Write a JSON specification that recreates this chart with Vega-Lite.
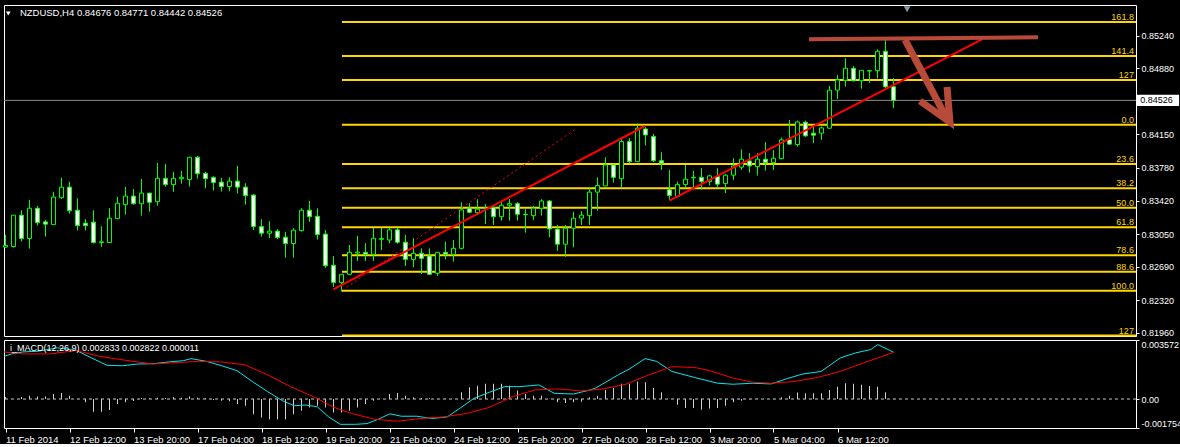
{
"$schema":"https://vega.github.io/schema/vega-lite/v6.json",
"background":"#000000",
"padding":{"left":1,"top":4,"right":0,"bottom":0},
"spacing":0,
"config":{
  "view":{"stroke":"#ffffff","strokeWidth":1},
  "axis":{"labelColor":"#ffffff","tickColor":"#ffffff","domain":false,"grid":false,"labelFont":"Liberation Sans","labelFontSize":9,"tickSize":3,"labelPadding":2},
  "text":{"font":"Liberation Sans","fontSize":9}
},
"datasets":{
"candles":[
{"i":0,"o":0.82906,"h":0.83041,"l":0.82901,"c":0.82923},
{"i":1,"o":0.82912,"h":0.83258,"l":0.82901,"c":0.83258},
{"i":2,"o":0.83258,"h":0.83313,"l":0.82967,"c":0.83000},
{"i":3,"o":0.83000,"h":0.83426,"l":0.82890,"c":0.83335},
{"i":4,"o":0.83335,"h":0.83360,"l":0.83143,"c":0.83176},
{"i":5,"o":0.83184,"h":0.83206,"l":0.83022,"c":0.83159},
{"i":6,"o":0.83154,"h":0.83516,"l":0.83154,"c":0.83458},
{"i":7,"o":0.83451,"h":0.83670,"l":0.83437,"c":0.83568},
{"i":8,"o":0.83568,"h":0.83626,"l":0.83275,"c":0.83308},
{"i":9,"o":0.83313,"h":0.83445,"l":0.83088,"c":0.83143},
{"i":10,"o":0.83170,"h":0.83214,"l":0.83088,"c":0.83143},
{"i":11,"o":0.83181,"h":0.83313,"l":0.82945,"c":0.82956},
{"i":12,"o":0.82956,"h":0.83136,"l":0.82909,"c":0.82964},
{"i":13,"o":0.82956,"h":0.83335,"l":0.82950,"c":0.83225},
{"i":14,"o":0.83220,"h":0.83461,"l":0.83215,"c":0.83390},
{"i":15,"o":0.83374,"h":0.83571,"l":0.83264,"c":0.83469},
{"i":16,"o":0.83469,"h":0.83546,"l":0.83374,"c":0.83385},
{"i":17,"o":0.83385,"h":0.83659,"l":0.83253,"c":0.83502},
{"i":18,"o":0.83502,"h":0.83505,"l":0.83297,"c":0.83401},
{"i":19,"o":0.83407,"h":0.83835,"l":0.83363,"c":0.83665},
{"i":20,"o":0.83665,"h":0.83824,"l":0.83574,"c":0.83596},
{"i":21,"o":0.83596,"h":0.83736,"l":0.83516,"c":0.83665},
{"i":22,"o":0.83661,"h":0.83747,"l":0.83607,"c":0.83676},
{"i":23,"o":0.83651,"h":0.83901,"l":0.83574,"c":0.83898},
{"i":24,"o":0.83898,"h":0.83912,"l":0.83661,"c":0.83716},
{"i":25,"o":0.83720,"h":0.83736,"l":0.83555,"c":0.83661},
{"i":26,"o":0.83676,"h":0.83687,"l":0.83530,"c":0.83618},
{"i":27,"o":0.83623,"h":0.83670,"l":0.83519,"c":0.83574},
{"i":28,"o":0.83574,"h":0.83676,"l":0.83523,"c":0.83634},
{"i":29,"o":0.83634,"h":0.83802,"l":0.83497,"c":0.83568},
{"i":30,"o":0.83568,"h":0.83611,"l":0.83374,"c":0.83475},
{"i":31,"o":0.83480,"h":0.83491,"l":0.83093,"c":0.83132},
{"i":32,"o":0.83132,"h":0.83214,"l":0.83022,"c":0.83059},
{"i":33,"o":0.83059,"h":0.83191,"l":0.83004,"c":0.83082},
{"i":34,"o":0.83082,"h":0.83104,"l":0.82993,"c":0.83011},
{"i":35,"o":0.83015,"h":0.83074,"l":0.82788,"c":0.82945},
{"i":36,"o":0.82945,"h":0.83114,"l":0.82788,"c":0.83093},
{"i":37,"o":0.83088,"h":0.83335,"l":0.83077,"c":0.83313},
{"i":38,"o":0.83313,"h":0.83415,"l":0.83184,"c":0.83242},
{"i":39,"o":0.83246,"h":0.83335,"l":0.82989,"c":0.83044},
{"i":40,"o":0.83049,"h":0.83093,"l":0.82678,"c":0.82700},
{"i":41,"o":0.82705,"h":0.82807,"l":0.82466,"c":0.82514},
{"i":42,"o":0.82514,"h":0.82605,"l":0.82415,"c":0.82605},
{"i":43,"o":0.82605,"h":0.82929,"l":0.82597,"c":0.82848},
{"i":44,"o":0.82840,"h":0.83030,"l":0.82752,"c":0.82851},
{"i":45,"o":0.82848,"h":0.82949,"l":0.82752,"c":0.82826},
{"i":46,"o":0.82826,"h":0.83118,"l":0.82752,"c":0.83004},
{"i":47,"o":0.82991,"h":0.83118,"l":0.82873,"c":0.83000},
{"i":48,"o":0.82984,"h":0.83118,"l":0.82949,"c":0.83096},
{"i":49,"o":0.83096,"h":0.83118,"l":0.82942,"c":0.82960},
{"i":50,"o":0.82960,"h":0.83041,"l":0.82697,"c":0.82770},
{"i":51,"o":0.82770,"h":0.83004,"l":0.82683,"c":0.82837},
{"i":52,"o":0.82837,"h":0.82892,"l":0.82609,"c":0.82782},
{"i":53,"o":0.82807,"h":0.82892,"l":0.82598,"c":0.82605},
{"i":54,"o":0.82617,"h":0.82848,"l":0.82587,"c":0.82848},
{"i":55,"o":0.82848,"h":0.82964,"l":0.82770,"c":0.82826},
{"i":56,"o":0.82826,"h":0.82984,"l":0.82745,"c":0.82892},
{"i":57,"o":0.82892,"h":0.83401,"l":0.82881,"c":0.83316},
{"i":58,"o":0.83335,"h":0.83390,"l":0.83279,"c":0.83290},
{"i":59,"o":0.83286,"h":0.83434,"l":0.83261,"c":0.83324},
{"i":60,"o":0.83330,"h":0.83382,"l":0.83162,"c":0.83335},
{"i":61,"o":0.83341,"h":0.83371,"l":0.83151,"c":0.83242},
{"i":62,"o":0.83242,"h":0.83407,"l":0.83198,"c":0.83368},
{"i":63,"o":0.83368,"h":0.83437,"l":0.83198,"c":0.83385},
{"i":64,"o":0.83385,"h":0.83404,"l":0.83198,"c":0.83268},
{"i":65,"o":0.83268,"h":0.83324,"l":0.83066,"c":0.83264},
{"i":66,"o":0.83253,"h":0.83360,"l":0.83206,"c":0.83335},
{"i":67,"o":0.83335,"h":0.83434,"l":0.83253,"c":0.83415},
{"i":68,"o":0.83415,"h":0.83426,"l":0.83015,"c":0.83107},
{"i":69,"o":0.83103,"h":0.83151,"l":0.82865,"c":0.82938},
{"i":70,"o":0.82938,"h":0.83151,"l":0.82799,"c":0.83114},
{"i":71,"o":0.83114,"h":0.83297,"l":0.82903,"c":0.83225},
{"i":72,"o":0.83225,"h":0.83302,"l":0.83151,"c":0.83258},
{"i":73,"o":0.83253,"h":0.83557,"l":0.83151,"c":0.83513},
{"i":74,"o":0.83513,"h":0.83676,"l":0.83308,"c":0.83585},
{"i":75,"o":0.83581,"h":0.83898,"l":0.83578,"c":0.83813},
{"i":76,"o":0.83813,"h":0.83816,"l":0.83618,"c":0.83676},
{"i":77,"o":0.83661,"h":0.84120,"l":0.83568,"c":0.84071},
{"i":78,"o":0.84071,"h":0.84109,"l":0.83832,"c":0.83849},
{"i":79,"o":0.83849,"h":0.84250,"l":0.83845,"c":0.84219},
{"i":80,"o":0.84210,"h":0.84230,"l":0.84028,"c":0.84144},
{"i":81,"o":0.84127,"h":0.84156,"l":0.83845,"c":0.83860},
{"i":82,"o":0.83860,"h":0.83953,"l":0.83758,"c":0.83832},
{"i":83,"o":0.83538,"h":0.83758,"l":0.83426,"c":0.83475},
{"i":84,"o":0.83464,"h":0.83629,"l":0.83453,"c":0.83596},
{"i":85,"o":0.83596,"h":0.83813,"l":0.83568,"c":0.83655},
{"i":86,"o":0.83670,"h":0.83747,"l":0.83557,"c":0.83676},
{"i":87,"o":0.83676,"h":0.83777,"l":0.83538,"c":0.83629},
{"i":88,"o":0.83629,"h":0.83703,"l":0.83585,"c":0.83692},
{"i":89,"o":0.83685,"h":0.83777,"l":0.83557,"c":0.83601},
{"i":90,"o":0.83607,"h":0.83714,"l":0.83501,"c":0.83700},
{"i":91,"o":0.83700,"h":0.83887,"l":0.83648,"c":0.83802},
{"i":92,"o":0.83788,"h":0.83985,"l":0.83758,"c":0.83876},
{"i":93,"o":0.83857,"h":0.83942,"l":0.83728,"c":0.83802},
{"i":94,"o":0.83794,"h":0.83942,"l":0.83695,"c":0.83876},
{"i":95,"o":0.83876,"h":0.84065,"l":0.83751,"c":0.83838},
{"i":96,"o":0.83838,"h":0.83978,"l":0.83758,"c":0.83887},
{"i":97,"o":0.83882,"h":0.84116,"l":0.83875,"c":0.84090},
{"i":98,"o":0.84090,"h":0.84310,"l":0.84035,"c":0.84043},
{"i":99,"o":0.84038,"h":0.84302,"l":0.84016,"c":0.84288},
{"i":100,"o":0.84285,"h":0.84302,"l":0.84123,"c":0.84134},
{"i":101,"o":0.84163,"h":0.84236,"l":0.84054,"c":0.84141},
{"i":102,"o":0.84163,"h":0.84236,"l":0.84090,"c":0.84222},
{"i":103,"o":0.84219,"h":0.84686,"l":0.84211,"c":0.84639},
{"i":104,"o":0.84639,"h":0.84807,"l":0.84541,"c":0.84752},
{"i":105,"o":0.84748,"h":0.84991,"l":0.84679,"c":0.84880},
{"i":106,"o":0.84880,"h":0.84906,"l":0.84735,"c":0.84743},
{"i":107,"o":0.84743,"h":0.84858,"l":0.84655,"c":0.84858},
{"i":108,"o":0.84850,"h":0.84856,"l":0.84720,"c":0.84854},
{"i":109,"o":0.84854,"h":0.85090,"l":0.84770,"c":0.85068},
{"i":110,"o":0.85068,"h":0.85192,"l":0.84660,"c":0.84676},
{"i":111,"o":0.84676,"h":0.84771,"l":0.84442,"c":0.84526}
],
"fib":[
{"lvl":"161.8","p":0.853901},{"lvl":"141.4","p":0.850161},{"lvl":"127","p":0.847521},{"lvl":"0.0","p":0.842571},
{"lvl":"23.6","p":0.838244},{"lvl":"38.2","p":0.835568},{"lvl":"50.0","p":0.833405},{"lvl":"61.8","p":0.831241},
{"lvl":"78.6","p":0.828161},{"lvl":"88.6","p":0.826328},{"lvl":"100.0","p":0.824238},{"lvl":"127","p":0.819288}
],
"hist":[
{"i":0,"v":0.00012},{"i":1,"v":0},{"i":2,"v":0.00012},{"i":3,"v":0.0002},{"i":4,"v":0.00016},{"i":5,"v":0.00016},{"i":6,"v":0.0003},{"i":7,"v":0.00037},{"i":8,"v":0.0002},{"i":9,"v":0.00002},
{"i":10,"v":-0.0002},{"i":11,"v":-0.00077},{"i":12,"v":-0.00077},{"i":13,"v":-0.00067},{"i":14,"v":-0.0003},{"i":15,"v":-0.0002},{"i":16,"v":-0.00012},{"i":17,"v":0.00006},{"i":18,"v":0.00004},{"i":19,"v":0.00008},
{"i":20,"v":0.00006},{"i":21,"v":0.00012},{"i":22,"v":0.00008},{"i":23,"v":0.00016},{"i":24,"v":0.00008},{"i":25,"v":0.00004},{"i":26,"v":-0.00006},{"i":27,"v":-0.0001},{"i":28,"v":-0.00014},{"i":29,"v":-0.0003},
{"i":30,"v":-0.0004},{"i":31,"v":-0.00092},{"i":32,"v":-0.00112},{"i":33,"v":-0.00122},{"i":34,"v":-0.00122},{"i":35,"v":-0.00122},{"i":36,"v":-0.00092},{"i":37,"v":-0.00071},{"i":38,"v":-0.00051},{"i":39,"v":-0.00041},
{"i":40,"v":-0.00051},{"i":41,"v":-0.00081},{"i":42,"v":-0.00081},{"i":43,"v":-0.00071},{"i":44,"v":-0.00051},{"i":45,"v":-0.0003},{"i":46,"v":-0.0001},{"i":47,"v":0.00002},{"i":48,"v":0.0003},{"i":49,"v":0.00037},
{"i":50,"v":0.0002},{"i":51,"v":0.0001},{"i":52,"v":0.00006},{"i":53,"v":0.00004},{"i":54,"v":0.00002},{"i":55,"v":0.00002},{"i":56,"v":0.00001},{"i":57,"v":0.00041},{"i":58,"v":0.00071},{"i":59,"v":0.00081},
{"i":60,"v":0.00092},{"i":61,"v":0.00092},{"i":62,"v":0.00092},{"i":63,"v":0.00081},{"i":64,"v":0.00051},{"i":65,"v":0.0003},{"i":66,"v":0.0002},{"i":67,"v":0.0002},{"i":68,"v":0.00001},{"i":69,"v":-0.0002},
{"i":70,"v":-0.00024},{"i":71,"v":-0.0002},{"i":72,"v":-0.00016},{"i":73,"v":0.0001},{"i":74,"v":0.0002},{"i":75,"v":0.00055},{"i":76,"v":0.00067},{"i":77,"v":0.00092},{"i":78,"v":0.00092},{"i":79,"v":0.00106},
{"i":80,"v":0.00102},{"i":81,"v":0.00067},{"i":82,"v":0.00041},{"i":83,"v":0.00001},{"i":84,"v":-0.00035},{"i":85,"v":-0.00055},{"i":86,"v":-0.00055},{"i":87,"v":-0.00065},{"i":88,"v":-0.00057},{"i":89,"v":-0.00055},
{"i":90,"v":-0.00041},{"i":91,"v":-0.0002},{"i":92,"v":-0.0001},{"i":93,"v":-0.00002},{"i":94,"v":0.00001},{"i":95,"v":0.00002},{"i":96,"v":0.00002},{"i":97,"v":0.0001},{"i":98,"v":0.0002},{"i":99,"v":0.00039},
{"i":100,"v":0.00035},{"i":101,"v":0.00035},{"i":102,"v":0.00035},{"i":103,"v":0.00055},{"i":104,"v":0.00075},{"i":105,"v":0.00096},{"i":106,"v":0.00092},{"i":107,"v":0.00086},{"i":108,"v":0.00079},{"i":109,"v":0.00075},
{"i":110,"v":0.00041},{"i":111,"v":0.000011}
],
"macd":[
{"x":-0.19,"v":0.002583},{"x":0.75,"v":0.002729},{"x":2.18,"v":0.00285},{"x":4.09,"v":0.002892},{"x":6.48,"v":0.003098},{"x":8.88,"v":0.002934},{"x":10.78,"v":0.002481},{"x":12.69,"v":0.002039},{"x":14.6,"v":0.002015},{"x":16.51,"v":0.002118},
{"x":18.43,"v":0.002136},{"x":20.34,"v":0.002239},{"x":22.25,"v":0.002323},{"x":23.2,"v":0.002444},{"x":25.11,"v":0.002281},{"x":27.03,"v":0.002015},{"x":28.94,"v":0.001712},{"x":30.85,"v":0.001059},{"x":32.76,"v":0.000448},{"x":34.68,"v":-0.000121},
{"x":36.1,"v":-0.000405},{"x":37.54,"v":-0.000363},{"x":38.98,"v":-0.000472},{"x":40.4,"v":-0.001083},{"x":41.84,"v":-0.001531},{"x":43.75,"v":-0.001531},{"x":45.19,"v":-0.001488},{"x":46.61,"v":-0.001222},{"x":48.05,"v":-0.000895},{"x":49.49,"v":-0.001041},
{"x":51.4,"v":-0.001041},{"x":53.31,"v":-0.00118},{"x":55.21,"v":-0.001083},{"x":56.65,"v":-0.000611},{"x":58.56,"v":0.000042},{"x":60.48,"v":0.000405},{"x":62.39,"v":0.00075},{"x":64.3,"v":0.00075},{"x":66.69,"v":0.000853},{"x":68.6,"v":0.000345},
{"x":70.99,"v":0.000303},{"x":72.9,"v":0.000526},{"x":73.73,"v":0.000653},{"x":76.6,"v":0.001464},{"x":78.04,"v":0.001833},{"x":79.94,"v":0.002444},{"x":81.38,"v":0.002281},{"x":83.29,"v":0.00167},{"x":86.16,"v":0.001301},{"x":89.04,"v":0.000956},
{"x":90.95,"v":0.000895},{"x":93.34,"v":0.000956},{"x":95.73,"v":0.000914},{"x":97.65,"v":0.001222},{"x":99.56,"v":0.001506},{"x":101.95,"v":0.00167},{"x":104.34,"v":0.002487},{"x":106.25,"v":0.002789},{"x":108.16,"v":0.002995},{"x":109.03,"v":0.003297},
{"x":111,"v":0.002833}
],
"signal":[
{"x":-0.19,"v":0.00285},{"x":2.18,"v":0.002729},{"x":5.53,"v":0.002729},{"x":8.88,"v":0.002934},{"x":11.74,"v":0.002583},{"x":15.08,"v":0.002341},{"x":18.43,"v":0.002118},{"x":21.29,"v":0.002202},{"x":24.16,"v":0.002281},{"x":27.03,"v":0.002239},
{"x":29.89,"v":0.002075},{"x":32.76,"v":0.001464},{"x":35.63,"v":0.00075},{"x":38.5,"v":0.000139},{"x":40.89,"v":-0.000472},{"x":43.28,"v":-0.000877},{"x":46.14,"v":-0.001222},{"x":49.01,"v":-0.001343},{"x":51.88,"v":-0.00118},{"x":54.74,"v":-0.001083},
{"x":57.61,"v":-0.000877},{"x":60.48,"v":-0.000508},{"x":63.34,"v":0.000139},{"x":66.21,"v":0.000551},{"x":69.08,"v":0.000611},{"x":71.94,"v":0.00049},{"x":74.69,"v":0.000611},{"x":77.56,"v":0.000895},{"x":80.43,"v":0.001464},{"x":83.29,"v":0.001954},
{"x":86.16,"v":0.001912},{"x":88.06,"v":0.001712},{"x":90.95,"v":0.001264},{"x":93.34,"v":0.001016},{"x":95.73,"v":0.000956},{"x":98.6,"v":0.001059},{"x":101.48,"v":0.001301},{"x":104.34,"v":0.00167},{"x":107.21,"v":0.002178},{"x":111,"v":0.002822}
]
},
"vconcat":[
{"width":1132,"height":331,
 "layer":[
  {"data":{"name":"fib"},"mark":{"type":"rule","stroke":"#ffd700","strokeWidth":2},
   "encoding":{
    "x":{"datum":42.06,"type":"quantitative","axis":null},
    "x2":{"datum":141.3125},
    "y":{"field":"p","type":"quantitative"}}},
  {"data":{"values":[{"p":0.84526}]},"mark":{"type":"rule","stroke":"#8c8c8c","strokeWidth":1},
   "encoding":{"y":{"field":"p","type":"quantitative"}}},
  {"data":{"values":[{"x":42.65,"p":0.824614},{"x":71.4,"p":0.842174}]},
   "mark":{"type":"line","stroke":"#ff0000","strokeWidth":1,"strokeDash":[2,3]},
   "encoding":{"x":{"field":"x","type":"quantitative","axis":null},"y":{"field":"p","type":"quantitative"}}},
  {"data":{"name":"candles"},"mark":{"type":"rule","stroke":"#00ff00","strokeWidth":1},
   "encoding":{
    "x":{"field":"i","type":"quantitative","scale":{"domain":[-0.1875,141.3125],"nice":false,"zero":false,"padding":0},"axis":null},
    "y":{"field":"l","type":"quantitative","scale":{"domain":[0.81924,0.85579],"nice":false,"zero":false,"padding":0},
         "axis":{"orient":"right","title":null,"values":[0.8524,0.8488,0.8415,0.8378,0.8342,0.8305,0.8269,0.8232,0.8196],"format":".5f","labelColor":"#ffffff","tickColor":"#ffffff","tickSize":3,"labelPadding":2,"domain":false,"grid":false,"labelFont":"Liberation Sans","labelFontSize":9}},
    "y2":{"field":"h"}}},
  {"data":{"name":"candles"},"mark":{"type":"bar","width":4,"stroke":"#00ff00","strokeWidth":1},
   "encoding":{"x":{"field":"i","type":"quantitative","axis":null},"y":{"field":"o","type":"quantitative"},"y2":{"field":"c"},
     "fill":{"condition":{"test":"datum.c < datum.o","value":"#ffffff"},"value":"#000000"}}},
  {"data":{"values":[{"id":"a","x":40.98,"p":0.824393},{"id":"a","x":79.94,"p":0.842428},{"id":"b","x":82.98,"p":0.834178},{"id":"b","x":122.06,"p":0.851992}]},
   "mark":{"type":"line","stroke":"#ff0000","strokeWidth":2},
   "encoding":{"x":{"field":"x","type":"quantitative","axis":null},"y":{"field":"p","type":"quantitative"},"detail":{"field":"id","type":"nominal"}}},
  {"data":{"values":[{"x":100.44,"p":0.852003},{"x":129.06,"p":0.852224}]},
   "mark":{"type":"line","stroke":"#b84a3a","strokeWidth":4},
   "encoding":{"x":{"field":"x","type":"quantitative","axis":null},"y":{"field":"p","type":"quantitative"}}},
  {"data":{"values":[{"g":"s","k":0,"x":112.44,"p":0.85193},{"g":"s","k":1,"x":117.44,"p":0.84364},{"g":"h","k":0,"x":114.31,"p":0.845189},{"g":"h","k":1,"x":118.06,"p":0.842869},{"g":"h","k":2,"x":117.69,"p":0.846735}]},
   "mark":{"type":"line","stroke":"#b84a3a","strokeWidth":7,"strokeJoin":"miter","strokeCap":"butt"},
   "encoding":{"x":{"field":"x","type":"quantitative","axis":null},"y":{"field":"p","type":"quantitative"},"detail":{"field":"g","type":"nominal"},"order":{"field":"k","type":"quantitative"}}},
  {"data":{"name":"fib"},"mark":{"type":"text","align":"right","baseline":"alphabetic","dy":-2,"color":"#ffd700"},
   "encoding":{"x":{"datum":141.05,"type":"quantitative","axis":null},"y":{"field":"p","type":"quantitative"},"text":{"field":"lvl","type":"nominal"}}},
  {"data":{"values":[{"t":"NZDUSD,H4  0.84676 0.84771 0.84442 0.84526","x":1.8,"p":0.854907}]},"mark":{"type":"text","align":"left","baseline":"middle","color":"#ffffff","fontSize":9.5},
   "encoding":{"x":{"field":"x","type":"quantitative","axis":null},"y":{"field":"p","type":"quantitative"},"text":{"field":"t","type":"nominal"}}},
  {"data":{"values":[{"x":0.35,"p":0.85485}]},"mark":{"type":"point","shape":"triangle-down","size":22,"filled":true,"color":"#ffffff","opacity":1},
   "encoding":{"x":{"field":"x","type":"quantitative","axis":null},"y":{"field":"p","type":"quantitative"}}},
  {"data":{"values":[{"x":112.7,"p":0.85532}]},"mark":{"type":"point","shape":"triangle-down","size":45,"filled":true,"color":"#8797a6","opacity":1},
   "encoding":{"x":{"field":"x","type":"quantitative","axis":null},"y":{"field":"p","type":"quantitative"}}},
  {"data":{"values":[{"x":141.44,"x2":146.7,"p":0.84588,"p2":0.84464}]},"mark":{"type":"rect","fill":"#ffffff"},
   "encoding":{"x":{"field":"x","type":"quantitative","axis":null},"x2":{"field":"x2"},"y":{"field":"p","type":"quantitative"},"y2":{"field":"p2"}}},
  {"data":{"values":[{"t":"0.84526","x":141.85,"p":0.84526}]},"mark":{"type":"text","align":"left","baseline":"middle","color":"#000000"},
   "encoding":{"x":{"field":"x","type":"quantitative","axis":null},"y":{"field":"p","type":"quantitative"},"text":{"field":"t","type":"nominal"}}}
 ]},
{"width":1132,"height":88,
 "layer":[
  {"data":{"name":"hist"},"mark":{"type":"bar","width":1,"fill":"#d0d0d0"},
   "encoding":{"x":{"field":"i","type":"quantitative","scale":{"domain":[-0.1875,141.3125],"nice":false,"zero":false,"padding":0},
      "axis":{"orient":"bottom","title":null,"values":[0,8,16,24,32,40,48,56,64,72,80,88,96,104],"labelAlign":"left","labelBaseline":"top","tickSize":4,"labelPadding":2,"labelFlush":false,"labelOverlap":false,"labelColor":"#ffffff","tickColor":"#ffffff","domain":false,"grid":false,"labelFont":"Liberation Sans","labelFontSize":9.5,
       "labelExpr":"['11 Feb 2014','12 Feb 12:00','13 Feb 20:00','17 Feb 04:00','18 Feb 12:00','19 Feb 20:00','21 Feb 04:00','24 Feb 12:00','25 Feb 20:00','27 Feb 04:00','28 Feb 12:00','3 Mar 20:00','5 Mar 04:00','6 Mar 12:00'][round(datum.value/8)]"}},
     "y":{"field":"v","type":"quantitative","scale":{"domain":[-0.001754,0.003572],"nice":false,"zero":false,"padding":0},
     "axis":{"orient":"right","title":null,"values":[0.003572,0,-0.001754],"labelFlush":true,"labelColor":"#ffffff","tickColor":"#ffffff","tickSize":3,"labelPadding":2,"domain":false,"grid":false,"labelFont":"Liberation Sans","labelFontSize":9,"labelExpr":"datum.value > 0.003 ? '0.003572' : (datum.value < -0.001 ? '-0.001754' : '0.00')"}}}},
  {"data":{"values":[{"v":0}]},"mark":{"type":"rule","stroke":"#c8c8c8","strokeWidth":1,"strokeDash":[3,3]},
   "encoding":{"y":{"field":"v","type":"quantitative"}}},
  {"data":{"name":"macd"},"mark":{"type":"line","stroke":"#00e8f0","strokeWidth":1},
   "encoding":{"x":{"field":"x","type":"quantitative"},"y":{"field":"v","type":"quantitative"}}},
  {"data":{"name":"signal"},"mark":{"type":"line","stroke":"#ff0000","strokeWidth":1},
   "encoding":{"x":{"field":"x","type":"quantitative"},"y":{"field":"v","type":"quantitative"}}},
  {"data":{"values":[{"t":"i_MACD(12,26,9) 0.002833 0.002822 0.000011","x":0.56,"v":0.003086}]},"mark":{"type":"text","align":"left","baseline":"middle","color":"#ffffff"},
   "encoding":{"x":{"field":"x","type":"quantitative"},"y":{"field":"v","type":"quantitative"},"text":{"field":"t","type":"nominal"}}}
 ]}
]
}
